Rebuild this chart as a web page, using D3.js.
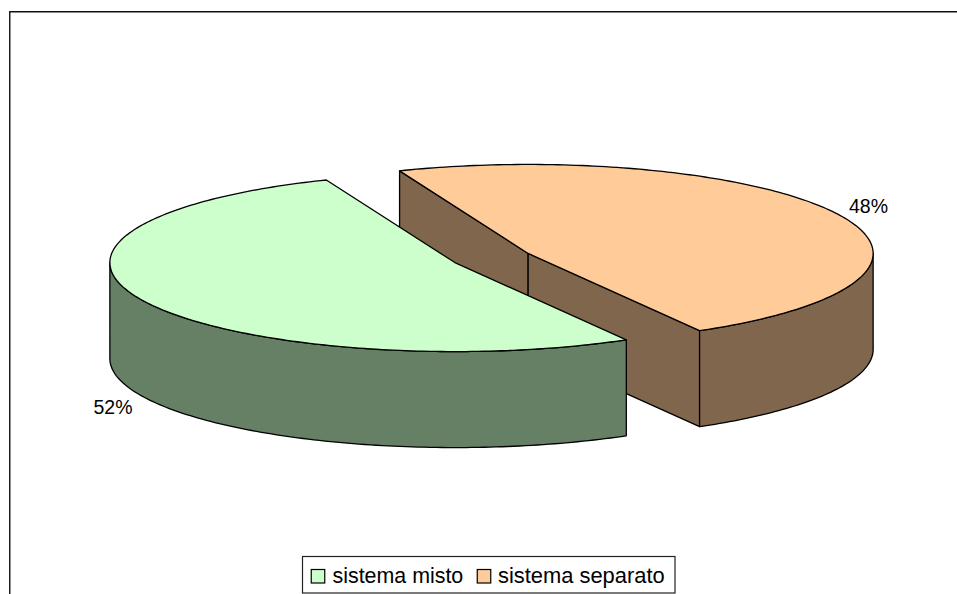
<!DOCTYPE html>
<html><head><meta charset="utf-8">
<script src="https://cdn.jsdelivr.net/npm/d3@7"></script>
<style>html,body{margin:0;padding:0;background:#fff}svg{display:block}text{font-family:"Liberation Sans",Arial,sans-serif;fill:#000}</style>
</head><body><svg id="c" width="957" height="594"></svg>
<script>
const categories = ["sistema misto", "sistema separato"];
const values = [52.2, 47.8];
const labels = ["52%", "48%"];
const topColors = ["#CCFFCC", "#FFCC99"];
const sideColors = ["#668066", "#80664D"];

const svg = d3.select("#c");
const deg = Math.PI / 180;
const W = 957, H = 594;
const rx = 345, ry = 89, depth = 96, explode = 0.118;
const x = d3.scaleLinear().domain([-1, 1]).range([491.5 - rx, 491.5 + rx]);
const y = d3.scaleLinear().domain([-1, 1]).range([258 - ry, 258 + ry]);

// frame: open on the right and bottom, clipped by the window
svg.append("path").attr("d", `M9.75,${H}V11.75H${W}`).attr("fill", "none").attr("stroke", "#111").attr("stroke-width", 1.4);

const arcs = d3.pie().sort(null).startAngle(150.2 * deg).endAngle(510.2 * deg)(values);
const line = d3.line();
function projector(a) {
  const mid = (a.startAngle + a.endAngle) / 2;
  const ox = Math.sin(mid) * explode, oy = -Math.cos(mid) * explode;
  return (t, r = 1) => [x(ox + r * Math.sin(t)), y(oy - r * Math.cos(t))];
}
function arcPts(pt, a0, a1) {
  const n = Math.max(2, Math.ceil(Math.abs(a1 - a0) / deg));
  return d3.range(n + 1).map(i => pt(a0 + (a1 - a0) * i / n));
}
const stroke = s => s.attr("stroke", "#000").attr("stroke-width", 1.3).attr("stroke-linejoin", "round");
const lower = p => [p[0], p[1] + depth];
function quad(g, p, q, fill) {
  stroke(g.append("path")).attr("fill", fill).attr("d", line([p, q, lower(q), lower(p)]) + "Z");
}
// the separated slice lies behind, the mixed one is painted over it
[1, 0].forEach(i => {
  const a = arcs[i], pt = projector(a), g = svg.append("g");
  const apex = pt(0, 0);
  if (i === 1) {
    // the two cut faces of this slice look towards the viewer
    quad(g, pt(a.startAngle), apex, sideColors[i]);
    quad(g, apex, pt(a.endAngle), sideColors[i]);
  }
  // only the front half of the rim (90 to 270 degrees) is visible
  const wall = i === 0 ? [a.startAngle, 270 * deg] : [a.endAngle - 360 * deg, 90 * deg];
  const rim = arcPts(pt, wall[0], wall[1]);
  stroke(g.append("path")).attr("fill", sideColors[i])
    .attr("d", line(rim.concat(rim.slice().reverse().map(lower))) + "Z");
  const face = [apex].concat(arcPts(pt, a.startAngle, a.endAngle));
  stroke(g.append("path")).attr("fill", topColors[i]).attr("d", line(face) + "Z");
});

// data labels
const labelPos = [[93.5, 413.5], [849, 213]];
labels.forEach((t, i) => svg.append("text").attr("x", labelPos[i][0]).attr("y", labelPos[i][1]).attr("font-size", 19.5).text(t));

// legend
svg.append("rect").attr("x", 302.5).attr("y", 556.5).attr("width", 372.5).attr("height", 36.5)
  .attr("fill", "#fff").attr("stroke", "#222").attr("stroke-width", 1.2);
const legendX = [[311, 332.5], [477, 498]];
const legendFont = [21.4, 21.9];
categories.forEach((c, i) => {
  svg.append("rect").attr("x", legendX[i][0] + .25).attr("y", 569.5).attr("width", 13.5).attr("height", 13.5)
    .attr("fill", topColors[i]).attr("stroke", "#000").attr("stroke-width", 1.2);
  svg.append("text").attr("x", legendX[i][1]).attr("y", 583).attr("font-size", legendFont[i]).text(c);
});
</script></body></html>
